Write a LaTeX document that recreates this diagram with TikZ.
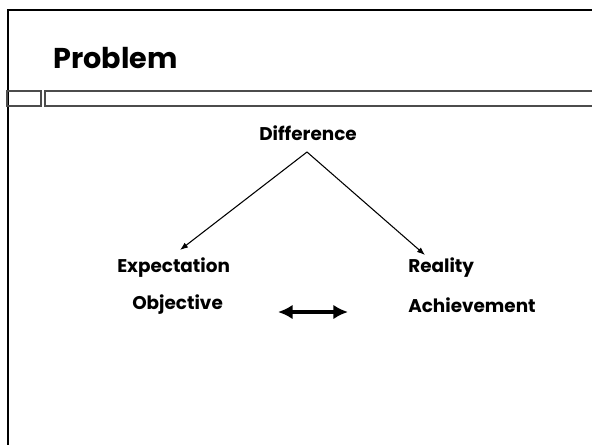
\documentclass[tikz,border=0pt]{standalone}
\usepackage{fontspec}
\setmainfont{Poppins}
\usetikzlibrary{positioning}
\usetikzlibrary{arrows.meta}

\begin{document}
\begin{tikzpicture}[
  x=0.75pt, y=-0.75pt,
  title/.style={font=\fontsize{21.5}{26}\selectfont\bfseries, anchor=base west, inner sep=0pt},
  word/.style={font=\fontsize{13.8}{16}\selectfont\bfseries, inner sep=0pt},
  band/.style={draw=black!70, line width=0.9pt},
  frame/.style={line width=2.2pt, line cap=rect},
  arrow/.style={-{Latex[length=6pt, width=4.5pt]}, line width=0.8pt},
  bigarrow/.style={{Latex[length=11pt, width=11pt]}-{Latex[length=11pt, width=11pt]}, line width=2.6pt}
]
\useasboundingbox (0,0) rectangle (592,444);

% Slide frame and title band
\draw[frame] (8,444) -- (8,10) -- (600,10);
\draw[band] (7,91) rectangle (41,106);
\draw[band] (45,91) rectangle (600,106);
\node[title] (problem) at (53,68) {Problem};

% Top: the difference
\node[word] (diff) at (308,133) {Difference};

% Left and right sides
\node[word, anchor=west] (expect) at (117,268) {Expectation};
\node[word, anchor=west] (obj) at (132,305) {Objective};
\node[word, anchor=west] (real) at (408,268) {Reality};
\node[word, anchor=west] (achieve) at (408,305) {Achievement};

% Arrow ends
\coordinate (apex) at (307,152);
\coordinate (lefttip) at (180,250);
\coordinate (righttip) at (425,255);
\coordinate (cmpL) at (278,312);
\coordinate (cmpR) at (348,312);

\draw[arrow] (apex) -- (lefttip);
\draw[arrow] (apex) -- (righttip);
\draw[bigarrow] (cmpL) -- (cmpR);

\end{tikzpicture}
\end{document}
